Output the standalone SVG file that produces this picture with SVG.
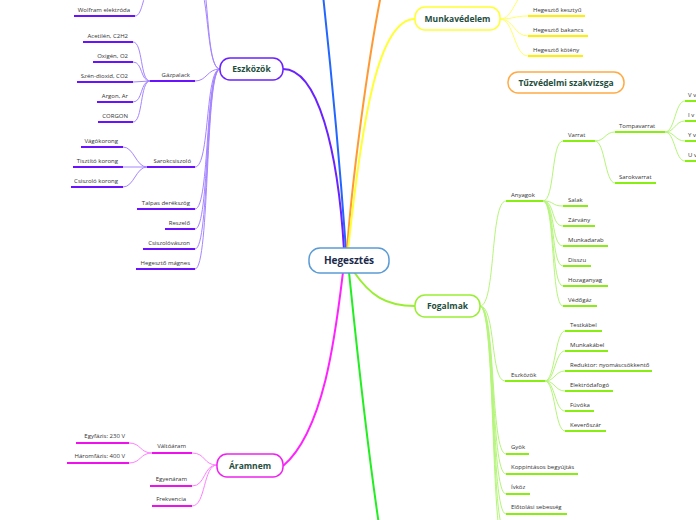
<svg xmlns="http://www.w3.org/2000/svg" width="696" height="520" viewBox="0 0 696 520">
<style>
.t{font-family:"Open Sans","Noto Sans",sans-serif;font-size:6px;fill:#333}
.e{text-anchor:end}
.b{font-family:"Open Sans","Noto Sans",sans-serif;font-weight:bold;font-size:8.5px;fill:#1f4e3d;text-anchor:middle}
.c{fill:none;stroke-width:1}
.u{fill:none;stroke-width:2}
.pc{stroke:#a585ff}.pu{stroke:#6a11ff}
.gc{stroke:#b5f57a}.gu{stroke:#88ee11}
.mc{stroke:#ff80ff}.mu{stroke:#ee11ee}
.yc{stroke:#ffff66}.yu{stroke:#ffee00}
.m{fill:none;stroke-width:2}
</style>
<rect width="696" height="520" fill="#fff"/>
<g id="connectors">
<path class="m" stroke="#2266ff" d="M346,250 C341,180 330,60 323,-5"/>
<path class="m" stroke="#ff9933" d="M347,250 C352,180 368,60 381,-5"/>
<path class="m" stroke="#ffff33" d="M348,250 C362,120 378,19 415,19"/>
<path class="m" stroke="#6a22ff" d="M344,250 C338,150 318,69 283,69"/>
<path class="m" stroke="#ff22ff" d="M343,272 C336,330 325,430 283,466"/>
<path class="m" stroke="#22ee22" d="M349,272 C356,340 365,430 379,525"/>
<path class="m" stroke="#99ee33" d="M354,272 C370,295 385,306 415,306"/>
<path class="c pc" d="M220,69 C205,69 210,-20 195,-20"/>
<path class="c pc" d="M220,69 C203,69 212,-50 190,-50"/>
<path class="c pc" d="M135,16 C143,16 143,-10 150,-10"/>
<path class="c pc" d="M220,69 C207,69 207,81 195,81"/>
<path class="c pc" d="M220,69 C205,69 210,167 195,167"/>
<path class="c pc" d="M220,69 C205,69 210,209 195,209"/>
<path class="c pc" d="M220,69 C205,69 210,229 195,229"/>
<path class="c pc" d="M220,69 C205,69 210,249 195,249"/>
<path class="c pc" d="M220,69 C205,69 210,269 195,269"/>
<path class="c pc" d="M150,81 C140,81 143,42 133,42"/>
<path class="c pc" d="M150,81 C140,81 143,62 133,62"/>
<path class="c pc" d="M150,81 L133,82"/>
<path class="c pc" d="M150,81 C140,81 143,102 133,102"/>
<path class="c pc" d="M150,81 C140,81 143,122 133,122"/>
<path class="c pc" d="M147,167 C136,167 134,147 123,147"/>
<path class="c pc" d="M147,167 L123,167"/>
<path class="c pc" d="M147,167 C136,167 134,187 123,187"/>
<path class="u pu" d="M74,16H135M83,42H133M93,62H133M77,82H133M97,102H133M98,122H133M150,81H195M81,147H123M73,167H123M71,187H123M147,167H195M137,209H195M165,229H195M143,249H195M136,269H195"/>
<path class="c yc" d="M500,19 C514,19 514,-6 528,-6"/>
<path class="c yc" d="M500,19 C514,19 514,16 528,16"/>
<path class="c yc" d="M500,19 C514,19 514,36 528,36"/>
<path class="c yc" d="M500,19 C514,19 514,56 528,56"/>
<path class="u yu" d="M528,16H585M528,36H588M528,56H583"/>
<path class="c gc" d="M480,306 C496,306 490,201 506,201"/>
<path class="c gc" d="M480,306 C496,306 490,381 505,381"/>
<path class="c gc" d="M480,306 C496,306 490,454 506,454"/>
<path class="c gc" d="M480,306 C496,306 490,474 506,474"/>
<path class="c gc" d="M480,306 C496,306 490,494 506,494"/>
<path class="c gc" d="M480,306 C496,306 490,514 506,514"/>
<path class="c gc" d="M480,306 C496,306 490,534 506,534"/>
<path class="c gc" d="M480,306 C496,306 490,554 506,554"/>
<path class="c gc" d="M543,201 C555,201 551,141 563,141"/>
<path class="c gc" d="M543,201 C555,201 551,206 563,206"/>
<path class="c gc" d="M543,201 C555,201 551,226 563,226"/>
<path class="c gc" d="M543,201 C555,201 551,246 563,246"/>
<path class="c gc" d="M543,201 C555,201 551,266 563,266"/>
<path class="c gc" d="M543,201 C555,201 551,286 563,286"/>
<path class="c gc" d="M543,201 C555,201 551,306 563,306"/>
<path class="c gc" d="M595,141 C605,141 605,132 615,132"/>
<path class="c gc" d="M595,141 C605,141 605,183 615,183"/>
<path class="c gc" d="M665,132 C675,132 675,101 685,101"/>
<path class="c gc" d="M665,132 C675,132 675,121 685,121"/>
<path class="c gc" d="M665,132 C675,132 675,141 685,141"/>
<path class="c gc" d="M665,132 C675,132 675,161 685,161"/>
<path class="c gc" d="M545,381 C555,381 555,331 565,331"/>
<path class="c gc" d="M545,381 C555,381 555,351 565,351"/>
<path class="c gc" d="M545,381 C555,381 555,371 565,371"/>
<path class="c gc" d="M545,381 C555,381 555,391 565,391"/>
<path class="c gc" d="M545,381 C555,381 555,411 565,411"/>
<path class="c gc" d="M545,381 C555,381 555,431 565,431"/>
<path class="u gu" d="M506,201H543M563,141H595M615,132H665M615,183H656M685,101H700M685,121H700M685,141H700M685,161H700M563,206H588M563,226H595M563,246H608M563,266H591M563,286H608M563,306H597M565,331H602M565,351H608M565,371H652M505,381H545M565,391H613M565,411H594M565,431H606M506,454H529M506,474H578M506,494H530M506,514H567"/>
<path class="c mc" d="M217,465 C203,465 206,453 192,453"/>
<path class="c mc" d="M217,465 C203,465 206,486 192,486"/>
<path class="c mc" d="M217,465 C203,465 206,506 192,506"/>
<path class="c mc" d="M152,453 C140,453 141,443 129,443"/>
<path class="c mc" d="M152,453 C140,453 141,463 129,463"/>
<path class="u mu" d="M152,453H192M150,486H192M152,506H192M76,443H129M67,463H129"/>
</g>
<g id="hegesztes">
<rect x="309" y="248" width="80" height="25" rx="11" fill="#fff" stroke="#5b9bd5" stroke-width="1.5"/>
<text x="349" y="264" font-family="'Open Sans','Noto Sans',sans-serif" font-weight="bold" font-size="10" fill="#1b2a4a" text-anchor="middle">Hegesztés</text>
</g>
<g id="munkavedelem">
<rect x="415" y="7" width="85" height="23" rx="10" fill="#fff" stroke="#ffff33" stroke-width="1.5"/>
<text class="b" x="457.5" y="22">Munkavédelem</text>
</g>
<g id="tuzvedelmi">
<rect x="508" y="72" width="116" height="21" rx="10" fill="#fff" stroke="#ffaa44" stroke-width="1.5"/>
<text class="b" x="566" y="85.5">Tűzvédelmi szakvizsga</text>
</g>
<g id="eszkozok">
<rect x="220" y="58" width="63" height="22" rx="10" fill="#fff" stroke="#6a22ff" stroke-width="1.5"/>
<text class="b" x="251.5" y="72">Eszközök</text>
</g>
<g id="fogalmak">
<rect x="415" y="295" width="65" height="22" rx="10" fill="#fff" stroke="#99ee33" stroke-width="1.5"/>
<text class="b" x="447.5" y="309">Fogalmak</text>
</g>
<g id="aramnem">
<rect x="217" y="454" width="66" height="23" rx="10" fill="#fff" stroke="#ee22ee" stroke-width="1.5"/>
<text class="b" x="250" y="468.5">Áramnem</text>
</g>
<g id="eszkozok-items">
<text class="t e" x="130" y="12">Wolfram elektróda</text>
<text class="t e" x="128" y="38">Acetilén, C2H2</text>
<text class="t e" x="128" y="58">Oxigén, O2</text>
<text class="t e" x="128" y="78">Szén-dioxid, CO2</text>
<text class="t e" x="128" y="98">Argon, Ar</text>
<text class="t e" x="128" y="118">CORGON</text>
<text class="t e" x="190" y="77">Gázpalack</text>
<text class="t e" x="118" y="143">Vágókorong</text>
<text class="t e" x="118" y="163">Tisztító korong</text>
<text class="t e" x="118" y="183">Csiszoló korong</text>
<text class="t e" x="191" y="163">Sarokcsiszoló</text>
<text class="t e" x="190" y="205">Talpas derékszög</text>
<text class="t e" x="190" y="225">Reszelő</text>
<text class="t e" x="190" y="245">Csiszolóvászon</text>
<text class="t e" x="190" y="265">Hegesztő mágnes</text>
</g>
<g id="munkavedelem-items">
<text class="t" x="533" y="12">Hegesztő kesztyű</text>
<text class="t" x="533" y="32">Hegesztő bakancs</text>
<text class="t" x="533" y="52">Hegesztő kötény</text>
</g>
<g id="fogalmak-items">
<text class="t" x="511" y="197">Anyagok</text>
<text class="t" x="568" y="137">Varrat</text>
<text class="t" x="619" y="128">Tompavarrat</text>
<text class="t" x="619" y="179">Sarokvarrat</text>
<text class="t" x="688" y="97">V v</text>
<text class="t" x="688" y="117">I v</text>
<text class="t" x="688" y="137">Y v</text>
<text class="t" x="688" y="157">U v</text>
<text class="t" x="568" y="202">Salak</text>
<text class="t" x="568" y="222">Zárvány</text>
<text class="t" x="568" y="242">Munkadarab</text>
<text class="t" x="568" y="262">Disszu</text>
<text class="t" x="568" y="282">Hozaganyag</text>
<text class="t" x="568" y="302">Védőgáz</text>
<text class="t" x="570" y="327">Testkábel</text>
<text class="t" x="570" y="347">Munkakábel</text>
<text class="t" x="570" y="367">Reduktor: nyomáscsökkentő</text>
<text class="t" x="511" y="377">Eszközök</text>
<text class="t" x="570" y="387">Elektródafogó</text>
<text class="t" x="570" y="407">Fúvóka</text>
<text class="t" x="570" y="427">Keverőszár</text>
<text class="t" x="511" y="449">Gyök</text>
<text class="t" x="511" y="469">Koppintásos begyújtás</text>
<text class="t" x="511" y="489">Ívköz</text>
<text class="t" x="511" y="509">Előtolási sebesség</text>
</g>
<g id="aramnem-items">
<text class="t e" x="125" y="438">Egyfázis: 230 V</text>
<text class="t e" x="125" y="458">Háromfázis: 400 V</text>
<text class="t e" x="186" y="448">Váltóáram</text>
<text class="t e" x="187" y="481">Egyenáram</text>
<text class="t e" x="186" y="501">Frekvencia</text>
</g>
</svg>
